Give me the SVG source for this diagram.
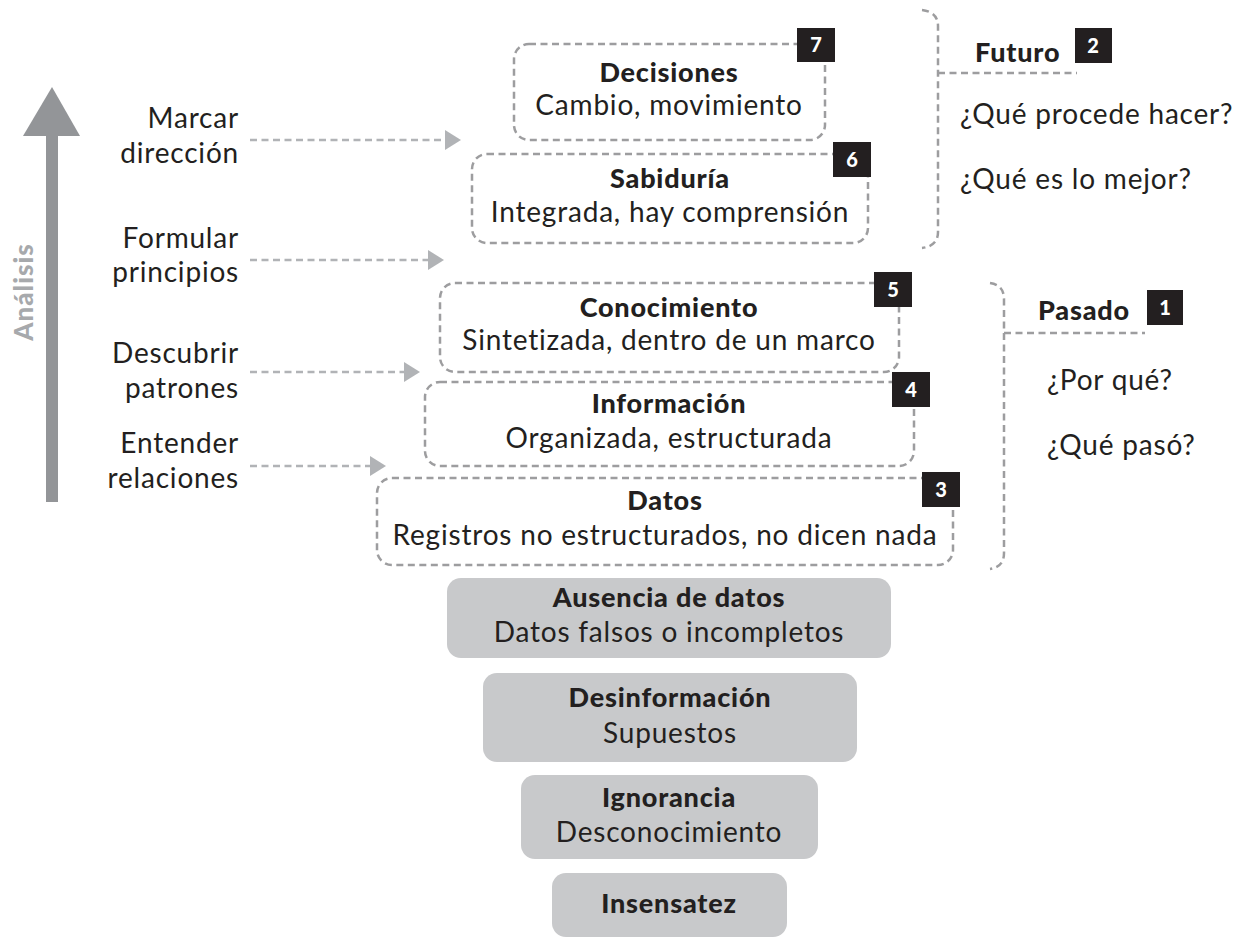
<svg xmlns="http://www.w3.org/2000/svg" width="1246" height="938" viewBox="0 0 1246 938">
<style>
text{font-family:Lato,"Liberation Sans",sans-serif;fill:#231f20}
.t{font-size:27px;font-weight:900;letter-spacing:0.8px;text-anchor:middle}
.s{font-size:28px;letter-spacing:0.8px;text-anchor:middle}
.l{font-size:28px;letter-spacing:0.8px;text-anchor:end}
.q{font-size:28px;letter-spacing:0.8px}
.h{font-size:27px;font-weight:900;letter-spacing:0.8px}
.box{fill:#fff;stroke:#9d9d9f;stroke-width:2.5;stroke-dasharray:7 4.5}
.br{fill:none;stroke:#9d9d9f;stroke-width:2.5;stroke-dasharray:7 4.5}
.gb{fill:#c8c9cb}
.badge{fill:#231f20}
.bn{font-size:20px;font-weight:900;fill:#fff;text-anchor:middle}
.ar{fill:none;stroke:#b1b3b6;stroke-width:2.5;stroke-dasharray:7 4.5}
</style>
<defs>
<marker id="ah" markerUnits="userSpaceOnUse" markerWidth="16" markerHeight="20" refX="0" refY="10" orient="auto">
<path d="M0,0 L16,10 L0,20 Z" fill="#b1b3b6"/>
</marker>
</defs>
<g id="analisis">
<rect x="46" y="133" width="12" height="369" fill="#939598"/>
<polygon points="23,136 52,87 80,136" fill="#939598"/>
<text transform="translate(33,292) rotate(-90)" style="font-size:26px;font-weight:900;letter-spacing:1px;fill:#a7a9ac;text-anchor:middle">Análisis</text>
</g>
<g id="labels">
<text class="l" x="239" y="128">Marcar</text>
<text class="l" x="239" y="163">dirección</text>
<text class="l" x="239" y="248">Formular</text>
<text class="l" x="239" y="282">principios</text>
<text class="l" x="239" y="363">Descubrir</text>
<text class="l" x="239" y="398">patrones</text>
<text class="l" x="239" y="453">Entender</text>
<text class="l" x="239" y="488">relaciones</text>
</g>
<g id="connectors">
<line class="ar" x1="250" y1="140" x2="445" y2="140" marker-end="url(#ah)"/>
<line class="ar" x1="250" y1="260" x2="428" y2="260" marker-end="url(#ah)"/>
<line class="ar" x1="250" y1="372" x2="404" y2="372" marker-end="url(#ah)"/>
<line class="ar" x1="250" y1="466" x2="370" y2="466" marker-end="url(#ah)"/>
<path class="br" d="M922 10 Q938 12 938 26 L938 232 Q938 246 922 248"/>
<line class="br" x1="938" y1="73" x2="1077" y2="73"/>
<path class="br" d="M990 283 Q1004 285 1004 299 L1004 553 Q1004 567 990 569"/>
<line class="br" x1="1004" y1="333" x2="1145" y2="333"/>
</g>
<g id="decisiones">
<rect class="box" x="514" y="44" width="311" height="96" rx="15"/>
<rect class="badge" x="797" y="28" width="38" height="34"/>
<text class="bn" x="816" y="52">7</text>
<text class="t" x="669" y="82">Decisiones</text>
<text class="s" x="669" y="115">Cambio, movimiento</text>
</g>
<g id="sabiduria">
<rect class="box" x="472" y="154" width="396" height="89" rx="15"/>
<rect class="badge" x="833" y="142" width="38" height="35"/>
<text class="bn" x="852" y="167">6</text>
<text class="t" x="670" y="188">Sabiduría</text>
<text class="s" x="670" y="222">Integrada, hay comprensión</text>
</g>
<g id="conocimiento">
<rect class="box" x="440" y="283" width="459" height="89" rx="15"/>
<rect class="badge" x="874" y="272" width="38" height="35"/>
<text class="bn" x="893" y="297">5</text>
<text class="t" x="669" y="317">Conocimiento</text>
<text class="s" x="669" y="350">Sintetizada, dentro de un marco</text>
</g>
<g id="informacion">
<rect class="box" x="425" y="382" width="489" height="84" rx="15"/>
<rect class="badge" x="892" y="372" width="38" height="35"/>
<text class="bn" x="911" y="397">4</text>
<text class="t" x="669" y="413">Información</text>
<text class="s" x="669" y="448">Organizada, estructurada</text>
</g>
<g id="datos">
<rect class="box" x="377" y="478" width="576" height="87" rx="15"/>
<rect class="badge" x="922" y="472" width="38" height="35"/>
<text class="bn" x="941" y="497">3</text>
<text class="t" x="665" y="510">Datos</text>
<text class="s" x="665" y="545">Registros no estructurados, no dicen nada</text>
</g>
<g id="futuro">
<text class="h" x="975" y="62">Futuro</text>
<rect class="badge" x="1075" y="28" width="37" height="35"/>
<text class="bn" x="1093" y="53">2</text>
<text class="q" x="960" y="124">¿Qué procede hacer?</text>
<text class="q" x="960" y="189">¿Qué es lo mejor?</text>
</g>
<g id="pasado">
<text class="h" x="1038" y="320">Pasado</text>
<rect class="badge" x="1147" y="290" width="36" height="35"/>
<text class="bn" x="1165" y="315">1</text>
<text class="q" x="1047" y="390">¿Por qué?</text>
<text class="q" x="1047" y="455">¿Qué pasó?</text>
</g>
<g id="ausencia">
<rect class="gb" x="447" y="578" width="444" height="80" rx="14"/>
<text class="t" x="669" y="607">Ausencia de datos</text>
<text class="s" x="669" y="642">Datos falsos o incompletos</text>
</g>
<g id="desinformacion">
<rect class="gb" x="483" y="673" width="374" height="89" rx="14"/>
<text class="t" x="670" y="707">Desinformación</text>
<text class="s" x="670" y="743">Supuestos</text>
</g>
<g id="ignorancia">
<rect class="gb" x="521" y="775" width="297" height="84" rx="14"/>
<text class="t" x="669" y="807">Ignorancia</text>
<text class="s" x="669" y="842">Desconocimiento</text>
</g>
<g id="insensatez">
<rect class="gb" x="552" y="873" width="235" height="64" rx="14"/>
<text class="t" x="669" y="913">Insensatez</text>
</g>
</svg>
